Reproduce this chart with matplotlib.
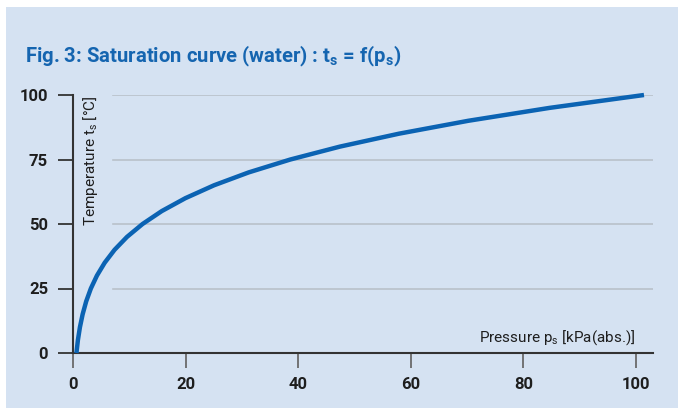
import matplotlib
matplotlib.use("Agg")
import matplotlib.pyplot as plt
from matplotlib.patches import Rectangle

# saturation pressure of water (kPa) vs temperature (°C)
temperatura = [0, 5, 10, 15, 20, 25, 30, 35, 40, 45, 50, 55, 60, 65, 70, 75, 80, 85, 90, 95, 100]
pressao = [0.61, 0.87, 1.23, 1.71, 2.34, 3.17, 4.25, 5.63, 7.38, 9.59, 12.35, 15.76,
           19.95, 25.04, 31.20, 38.60, 47.41, 57.87, 70.18, 84.61, 101.4]
x_ticks = [0, 20, 40, 60, 80, 100]
y_ticks = [0, 25, 50, 75, 100]

FUNDO = "#d5e2f2"
AZUL = "#0b63b3"
TEXTO = "#1e1e1e"
FONTE = "Roboto"

plt.rcParams["font.family"] = [FONTE, "DejaVu Sans"]
plt.rcParams["mathtext.fontset"] = "custom"
plt.rcParams["mathtext.rm"] = FONTE
plt.rcParams["mathtext.bf"] = FONTE + ":bold"

W, H = 678, 408
fig = plt.figure(figsize=(W / 100, H / 100), dpi=100, facecolor="white")
fig.patches.append(Rectangle((6 / W, 0), 1 - 6 / W, 1 - 7 / H, transform=fig.transFigure,
                             facecolor=FUNDO, edgecolor="none", zorder=-10))

ax = fig.add_axes([73 / W, 1 - 353 / H, 580 / W, 258 / H])
ax.set_facecolor("none")
ax.set_xlim(0, 103)
ax.set_ylim(0, 100)

for y in y_ticks[1:]:
    ax.axhline(y, xmin=40 / 580, xmax=1, color="#b9c1ca", lw=1.2, zorder=1)

ax.plot(pressao, temperatura, color=AZUL, lw=3.2, solid_capstyle="butt", zorder=3, clip_on=False)

for s in ["top", "right"]:
    ax.spines[s].set_visible(False)
for s in ["left", "bottom"]:
    ax.spines[s].set_color("#333333")
    ax.spines[s].set_linewidth(1.5)

ax.set_xticks(x_ticks)
ax.set_yticks(y_ticks)
ax.tick_params(axis="x", direction="out", length=11, width=1.3, color="#6a6a6a", pad=6,
               labelsize=12, labelcolor=TEXTO)
ax.tick_params(axis="y", direction="out", length=11, width=1.3, color="#333333", pad=7,
               labelsize=12, labelcolor=TEXTO)
for lab in ax.get_xticklabels() + ax.get_yticklabels():
    lab.set_fontweight("bold")

fig.text(25 / W, 1 - 62 / H, r"Fig. 3: Saturation curve (water) : t$_\mathbf{s}$ = f(p$_\mathbf{s}$)",
         color="#1565b0", fontsize=14.6, fontweight="bold", ha="left", va="baseline")

fig.text(90 / W, 1 - 95 / H, r"Temperature t$_\mathrm{s}$ [°C]", rotation=90,
         color=TEXTO, fontsize=11, ha="center", va="top")
fig.text(635 / W, 1 - 342 / H, r"Pressure p$_\mathrm{s}$ [kPa(abs.)]",
         color=TEXTO, fontsize=11, ha="right", va="baseline")

fig.savefig("out.png", dpi=100, facecolor="white")
